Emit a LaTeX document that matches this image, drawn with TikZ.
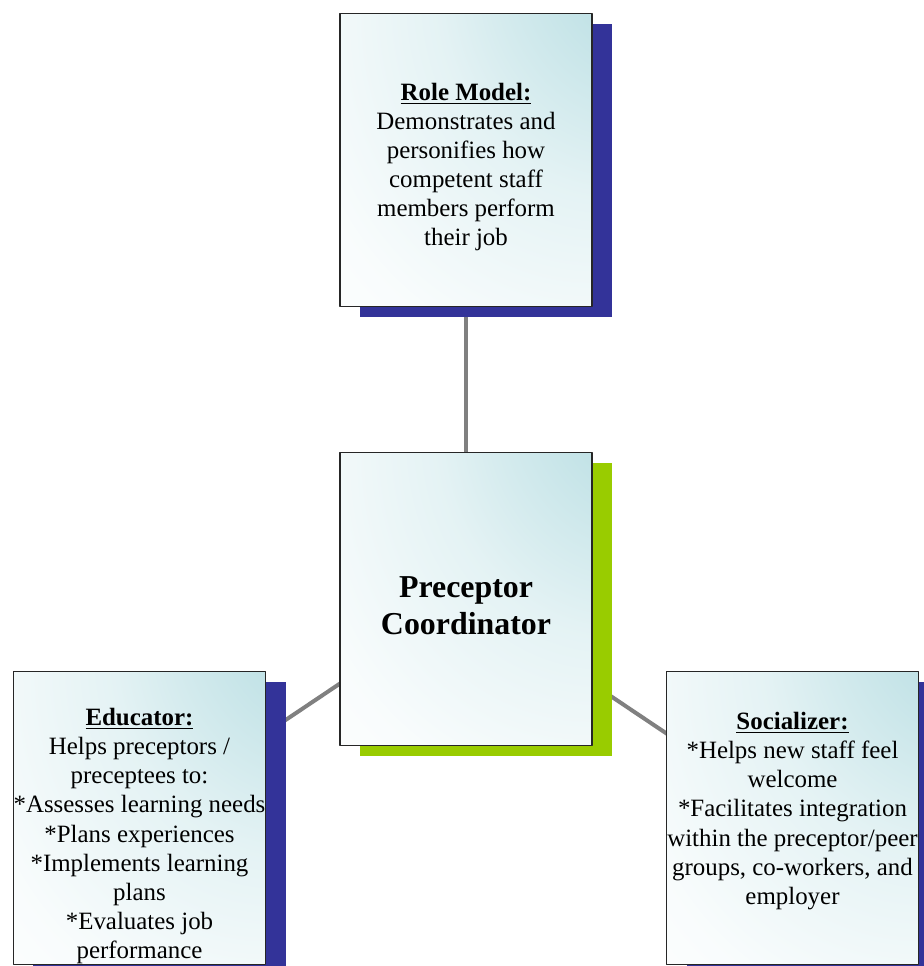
\documentclass[tikz,border=0pt]{standalone}
\usepackage{fontspec}
\setmainfont{Liberation Serif}
\usetikzlibrary{shadows,backgrounds}
\definecolor{shadowblue}{RGB}{51,51,153}
\definecolor{shadowgreen}{RGB}{153,204,0}
\definecolor{paleteal}{RGB}{178,219,224}
\definecolor{linkgray}{RGB}{128,128,128}
\pgfdeclareradialshading{boxglow}{\pgfpoint{45bp}{45bp}}{color(0bp)=(paleteal);
	color(15bp)=(paleteal!85!white); color(35bp)=(paleteal!35!white); color(55bp)=(paleteal!8!white); color(70bp)=(white); color(100bp)=(white)}
\tikzset{
	rolebox/.style={draw=black!85, line width=0.7bp, minimum width=126bp, minimum height=146.5bp, inner sep=0pt,
		shade, shading=boxglow,
		drop shadow={shadow xshift=10bp, shadow yshift=-5bp, fill=#1, opacity=1}},
	roletext/.style={align=center, inner sep=0pt, font=\fontsize{12.5}{14.6}\selectfont},
	link/.style={draw=linkgray, line width=2bp}
}
\begin{document}
\begin{tikzpicture}[x=0.5bp, y=-0.5bp, line join=round]
			\useasboundingbox (0,0) rectangle (924,966);
			% boxes
			\node[rolebox=shadowblue] (role) at (466,160) {};
			\node[rolebox=shadowgreen] (hub) at (466,599) {};
			\node[rolebox=shadowblue] (educator) at (139.5,818) {};
			\node[rolebox=shadowblue] (socializer) at (792.5,818) {};
			% links behind
			\begin{scope}[on background layer]
				\draw[link] (role.center)--(hub.center);
				\draw[link] (hub.center)--(educator.center);
				\draw[link] (hub.center)--(socializer.center);
			\end{scope}
			% texts
			\node[roletext] (roletxt) at (466,167)
			{\underline{\textbf{Role Model:}}\\Demonstrates and\\personifies how\\competent staff\\members perform\\their job};
			\node[roletext, font=\fontsize{16}{18.5}\selectfont\bfseries] (hubtxt) at (466,606)
			{Preceptor\\Coordinator};
			\node[roletext] (educatortxt) at (139.5,836)
			{\underline{\textbf{Educator:}}\\Helps preceptors /\\preceptees to:\\*Assesses learning needs\\*Plans experiences\\*Implements learning\\plans\\*Evaluates job\\performance};
			\node[roletext] (socializertxt) at (792.5,811)
			{\underline{\textbf{Socializer:}}\\*Helps new staff feel\\welcome\\*Facilitates integration\\within the preceptor/peer\\groups, co-workers, and\\employer};
	\end{tikzpicture}
\end{document}
